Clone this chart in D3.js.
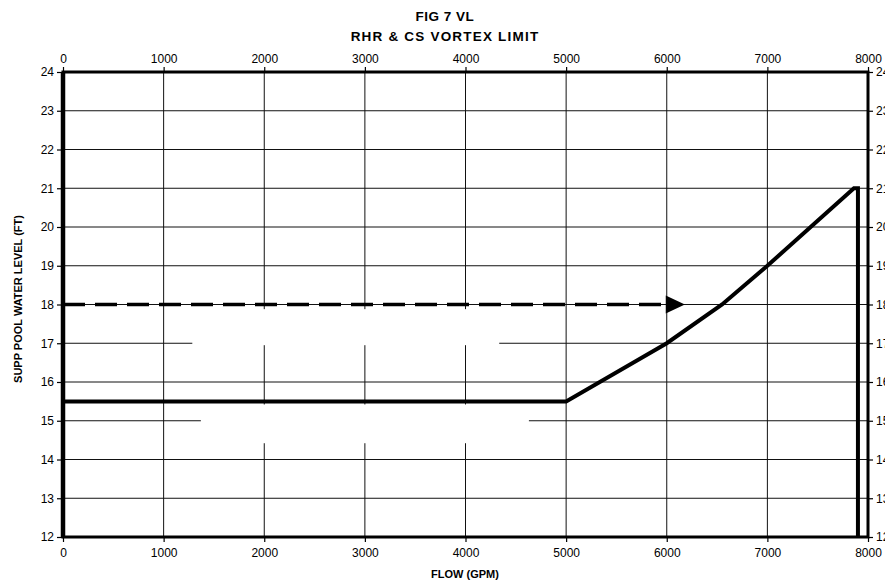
<html>
<head>
<title>FIG 7 VL</title>
<script src="https://d3js.org/d3.v7.min.js" charset="utf-8"></script>
<style>
body { margin: 0; background: white; font-family: "Liberation Sans", Arial, sans-serif; }
.grid line { stroke: #111; stroke-width: 1; }
.tick text { font-size: 12px; fill: #000; }
</style>
</head>
<body>
<script>
// chart size
var width = 885;
var height = 584;

// data
var flowTicks = [0, 1000, 2000, 3000, 4000, 5000, 6000, 7000, 8000];
var levelTicks = [12, 13, 14, 15, 16, 17, 18, 19, 20, 21, 22, 23, 24];
// vortex limit curve (flow gpm, level ft)
var limitFlow = [0, 5000, 6000, 6550, 7000, 7430, 7860, 7900, 7900];
var limitLevel = [15.5, 15.5, 17, 18, 19, 20, 21, 21, 12];
// dashed arrow at 18 ft
var arrowFlow = [0, 6180];
var arrowLevel = 18;
// blanked boxes on the grid [flow0, flow1, level0, level1]
var blankX0 = [1285, 1370];
var blankX1 = [4335, 4630];
var blankY0 = [16.95, 14.42];
var blankY1 = [17.88, 15.42];

var x = d3.scaleLinear().domain([0, 8000]).range([63, 868]);
var y = d3.scaleLinear().domain([12, 24]).range([537, 72]);

var svg = d3.select("body").append("svg")
	.attr("width", width)
	.attr("height", height);

// titles
svg.append("text").attr("x", 445).attr("y", 21).attr("text-anchor", "middle")
	.attr("font-size", "13.5px").attr("font-weight", "bold").attr("letter-spacing", "0.5px").text("FIG 7 VL");
svg.append("text").attr("x", 445).attr("y", 41).attr("text-anchor", "middle")
	.attr("font-size", "13.5px").attr("font-weight", "bold").attr("letter-spacing", "1.2px")
	.text("RHR & CS VORTEX LIMIT");

// grid
var grid = svg.append("g").attr("class", "grid");
grid.selectAll(".v").data(flowTicks.slice(1, -1)).enter().append("line")
	.attr("x1", d => x(d)).attr("x2", d => x(d))
	.attr("y1", y(24)).attr("y2", y(12));
grid.selectAll(".h").data(levelTicks.slice(1, -1)).enter().append("line")
	.attr("x1", x(0)).attr("x2", x(8000))
	.attr("y1", d => y(d)).attr("y2", d => y(d));

// blank boxes over the grid
svg.selectAll(".blank").data(blankX0).enter().append("rect")
	.attr("x", (d, i) => x(blankX0[i]))
	.attr("y", (d, i) => y(blankY1[i]))
	.attr("width", (d, i) => x(blankX1[i]) - x(blankX0[i]))
	.attr("height", (d, i) => y(blankY0[i]) - y(blankY1[i]))
	.attr("fill", "white");

// axes
var fmt = d3.format("d");
var axTop = svg.append("g").attr("transform", "translate(0," + y(24) + ")")
	.call(d3.axisTop(x).tickValues(flowTicks).tickFormat(fmt).tickSize(5).tickPadding(4));
var axBottom = svg.append("g").attr("transform", "translate(0," + y(12) + ")")
	.call(d3.axisBottom(x).tickValues(flowTicks).tickFormat(fmt).tickSize(5).tickPadding(6));
var axLeft = svg.append("g").attr("transform", "translate(" + x(0) + ",0)")
	.call(d3.axisLeft(y).tickValues(levelTicks).tickSize(6).tickPadding(3));
var axRight = svg.append("g").attr("transform", "translate(" + x(8000) + ",0)")
	.call(d3.axisRight(y).tickValues(levelTicks).tickSize(5).tickPadding(3));

[axTop, axBottom, axLeft, axRight].forEach(function(a) {
	a.select(".domain").remove();
	a.selectAll(".tick line").attr("stroke", "#000").attr("stroke-width", 1.2);
	a.selectAll("text").attr("font-family", "Liberation Sans, Arial, sans-serif").attr("font-size", "12px");
});

// frame
svg.append("rect")
	.attr("x", x(0)).attr("y", y(24))
	.attr("width", x(8000) - x(0)).attr("height", y(12) - y(24))
	.attr("fill", "none").attr("stroke", "#000").attr("stroke-width", 3);
svg.append("line").attr("x1", x(0)).attr("x2", x(0)).attr("y1", y(24)).attr("y2", y(12))
	.attr("stroke", "#000").attr("stroke-width", 4.5);

// dashed line with arrow
svg.append("line")
	.attr("x1", x(arrowFlow[0])).attr("x2", x(6000))
	.attr("y1", y(arrowLevel)).attr("y2", y(arrowLevel))
	.attr("stroke", "#000").attr("stroke-width", 3.5)
	.attr("stroke-dasharray", "22,10");
svg.append("path")
	.attr("d", "M" + x(5990) + "," + (y(arrowLevel) - 9) +
		"L" + x(arrowFlow[1]) + "," + y(arrowLevel) +
		"L" + x(5990) + "," + (y(arrowLevel) + 9) + "Z")
	.attr("fill", "#000");

// limit curve
var line = d3.line().x(d => x(d[0])).y(d => y(d[1]));
svg.append("path")
	.datum(limitFlow.map((f, i) => [f, limitLevel[i]]))
	.attr("d", line)
	.attr("fill", "none").attr("stroke", "#000").attr("stroke-width", 4)
	.attr("stroke-linejoin", "miter");

// axis titles
svg.append("text").attr("x", 465).attr("y", 578).attr("text-anchor", "middle")
	.attr("font-size", "11px").attr("font-weight", "bold").text("FLOW (GPM)");
svg.append("text").attr("transform", "translate(22,299) rotate(-90)").attr("text-anchor", "middle")
	.attr("font-size", "11px").attr("font-weight", "bold").text("SUPP POOL WATER LEVEL (FT)");
</script>
</body>
</html>
